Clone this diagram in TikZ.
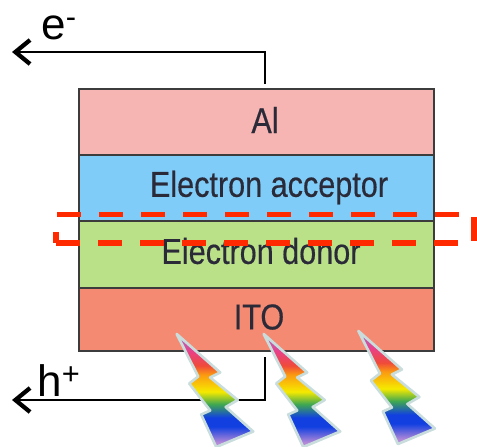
\documentclass[tikz,border=0pt]{standalone}
\usepackage{fontspec}
\setmainfont{Liberation Sans}
\newfontfamily\layerfont[FakeStretch=0.85,FakeBold=0.4]{Liberation Sans}
\usetikzlibrary{positioning,arrows.meta}

\definecolor{alfill}{HTML}{F6B5B2}
\definecolor{acceptorfill}{HTML}{7FCCF8}
\definecolor{donorfill}{HTML}{BAE188}
\definecolor{itofill}{HTML}{F58A73}
\definecolor{layeredge}{HTML}{3C3C3C}
\definecolor{layertext}{HTML}{2A2A38}
\definecolor{dashred}{HTML}{FF2A00}
\definecolor{boltedge}{HTML}{C9DDDD}
\definecolor{rba}{HTML}{B58AD8}
\definecolor{rbb}{HTML}{1240E0}
\definecolor{rbc}{HTML}{3FA850}
\definecolor{rbd}{HTML}{F6EA00}
\definecolor{rbe}{HTML}{FB9A10}
\definecolor{rbf}{HTML}{F04A3A}
\definecolor{rbg}{HTML}{E8408A}
\definecolor{rbh}{HTML}{B068B8}
\pgfdeclareverticalshading{rainbowbolt}{100bp}{
  color(0bp)=(rba);
  color(27bp)=(rba);
  color(34bp)=(rbb);
  color(38bp)=(rbb);
  color(44bp)=(rbc);
  color(49.5bp)=(rbd);
  color(57bp)=(rbe);
  color(61bp)=(rbf);
  color(67.5bp)=(rbg);
  color(73bp)=(rbh);
  color(100bp)=(rbh)}

\begin{document}
\begin{tikzpicture}[x=0.75pt,y=-0.75pt,
    wire/.style={draw=black,line width=2pt,-{Straight Barb[length=11pt,width=18pt,line width=3.2pt]}},
    layer/.style={draw=layeredge,line width=1.1pt,minimum width=266.25pt,inner sep=0pt,outer sep=0pt},
    layertag/.style={inner sep=0pt,text=layertext,font=\layerfont\fontsize{27}{27}\selectfont},
    carrier/.style={inner sep=0pt,font=\fontsize{33}{33}\selectfont},
    bolt/.pic={\path[draw=boltedge,line width=2pt,line join=round,shading=rainbowbolt,shading angle=0]
      (0,0) -- (43.5,38.5) -- (33.5,43.5) -- (61,66) -- (49,73) -- (76.5,97.5) -- (39.5,113)
      -- (24.5,80.5) -- (33.5,76.5) -- (12.5,49.5) -- (21.5,42.5) -- cycle;}]
\useasboundingbox (0,0) rectangle (477,446);

\coordinate (topbend) at (265,52);
\coordinate (topstart) at (265,84);
\coordinate (topend) at (12,52);
\coordinate (botbend) at (265,400);
\coordinate (botstart) at (265,357);
\coordinate (botend) at (12,400);

\draw[wire] (topstart) -- (topbend) -- (topend);
\draw[wire] (botstart) -- (botbend) -- (botend);
\node[carrier] (eminus) at (59,28) {e\textsuperscript{-}};
\node[carrier] (hplus)  at (59,381) {h\textsuperscript{+}};

\node[layer,fill=alfill,minimum height=49.5pt,anchor=north west] (al) at (79,89) {};
\node[layer,fill=acceptorfill,minimum height=49.5pt] (acceptor) [below=0pt of al] {};
\node[layer,fill=donorfill,minimum height=50.25pt] (donor) [below=0pt of acceptor] {};
\node[layer,fill=itofill,minimum height=47.25pt] (ito) [below=0pt of donor] {};

\node[layertag] (altag) at (265,120) {Al};
\node[layertag] (acceptortag) at (269,187.5) {Electron acceptor};
\node[layertag] (donortag) at (261,251) {Electron donor};
\node[layertag] (itotag) at (259,317) {ITO};

\coordinate (dasha) at (56,243);
\coordinate (dashb) at (474,243);
\coordinate (dashc) at (474,214.5);
\coordinate (dashd) at (56,214.5);
\draw[dashred,line width=3.8pt,dash pattern=on 18pt off 13.5pt] (dasha) -- (dashb) -- (dashc) -- (dashd) -- cycle;

\pic (boltone) at (176.7,334) {bolt};
\pic (bolttwo) at (263.7,334) {bolt};
\pic (boltthree) at (358.4,331) {bolt};
\end{tikzpicture}
\end{document}
